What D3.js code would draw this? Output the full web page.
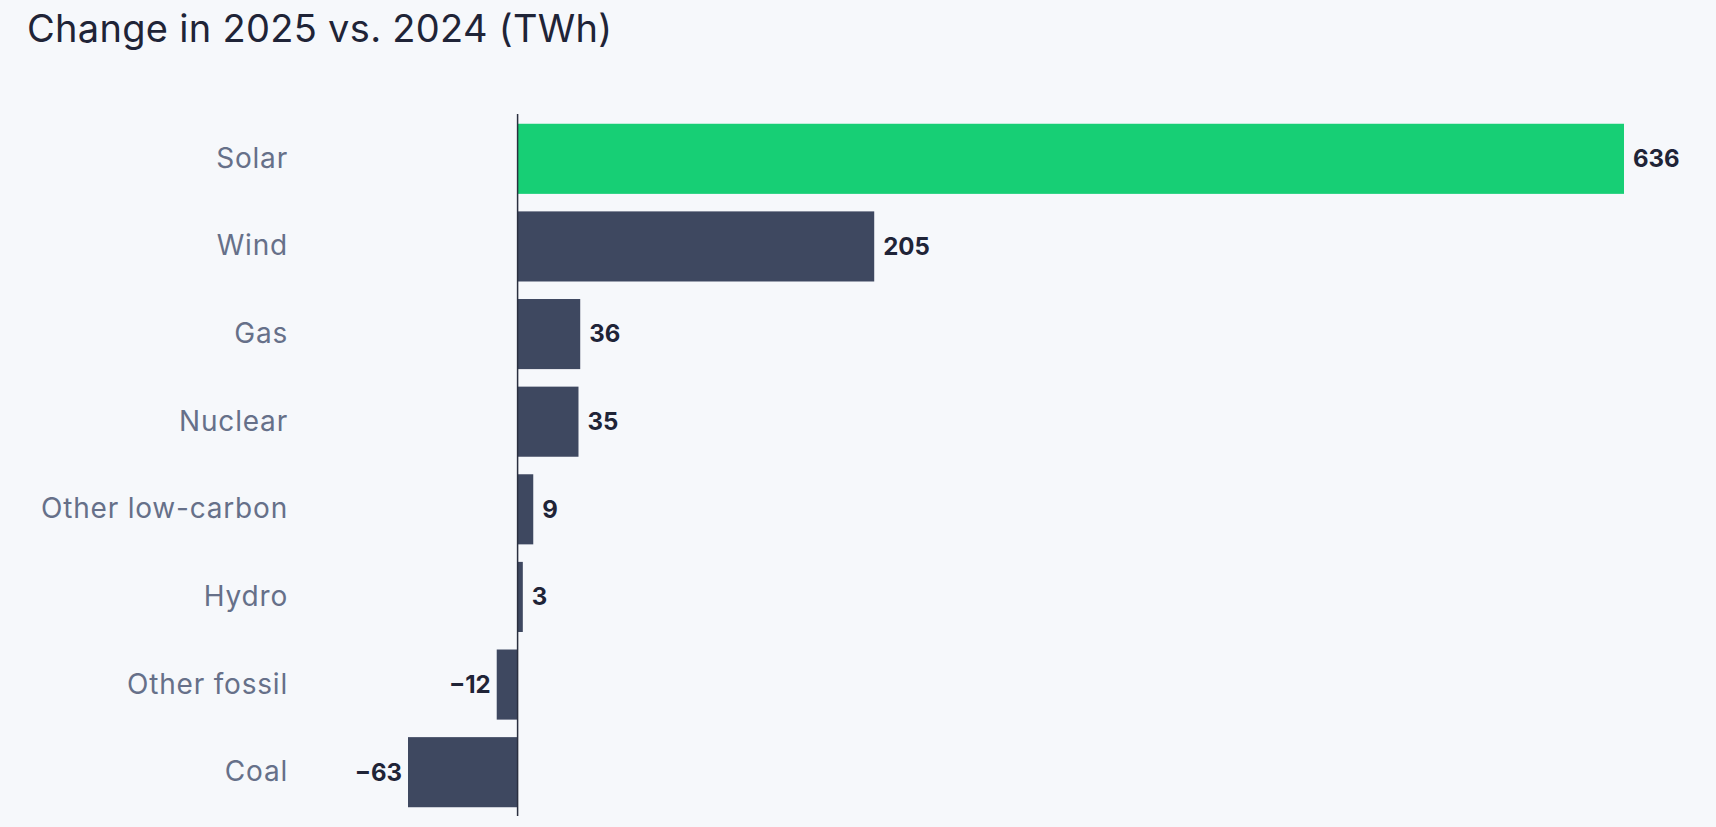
<!DOCTYPE html>
<html>
<head>
<meta charset="utf-8">
<script src="https://cdn.jsdelivr.net/npm/d3@7"></script>
<style>
  html, body { margin: 0; padding: 0; background: #f6f8fb; }
  svg { display: block; }
</style>
</head>
<body>
<svg id="chart" width="1716" height="827"></svg>
<script>
const categories = ["Solar", "Wind", "Gas", "Nuclear", "Other low-carbon", "Hydro", "Other fossil", "Coal"];
const values = [636, 205, 36, 35, 9, 3, -12, -63];
const highlight = ["Solar"];
const titleText = "Change in 2025 vs. 2024 (TWh)";

const svg = d3.select("#chart");
const W = 1716, H = 827;
svg.append("rect").attr("width", W).attr("height", H).attr("fill", "#f6f8fb");

const x = d3.scaleLinear().domain([-63, 636]).range([408, 1624]);
const y = d3.scaleBand().domain(categories).range([115, 816]).paddingInner(0.2).paddingOuter(0.1);

const data = categories.map((c, i) => ({ c, v: values[i] }));

svg.append("text")
  .attr("x", 27).attr("y", 42)
  .attr("font-family", "Inter, sans-serif")
  .attr("font-size", 38)
  .attr("letter-spacing", 0.3)
  .attr("fill", "#1f2437")
  .text(titleText);

svg.append("g").selectAll("rect").data(data).join("rect")
  .attr("x", d => x(Math.min(0, d.v)))
  .attr("y", d => y(d.c))
  .attr("width", d => Math.abs(x(d.v) - x(0)))
  .attr("height", y.bandwidth())
  .attr("fill", d => highlight.includes(d.c) ? "#17cf75" : "#3e4860");

// zero axis line
svg.append("line")
  .attr("x1", x(0)).attr("x2", x(0))
  .attr("y1", y.range()[0] - 1).attr("y2", y.range()[1])
  .attr("stroke", "#2a2f3f").attr("stroke-width", 1.5);

// category labels
const yAxis = d3.axisLeft(y).tickSize(0).tickPadding(0);
const gy = svg.append("g").attr("transform", "translate(288,0)").call(yAxis);
gy.select(".domain").remove();
gy.selectAll("text")
  .attr("font-family", "Inter, sans-serif")
  .attr("font-size", 28)
  .attr("letter-spacing", 0.8)
  .attr("fill", "#667089");

// value labels
svg.append("g").selectAll("text").data(data).join("text")
  .attr("x", d => d.v >= 0 ? x(d.v) + 9 : x(d.v) - 6)
  .attr("y", d => y(d.c) + y.bandwidth() / 2)
  .attr("dy", "0.35em")
  .attr("text-anchor", d => d.v >= 0 ? "start" : "end")
  .attr("font-family", "Inter, sans-serif")
  .attr("font-weight", 700)
  .attr("font-size", 24)
  .attr("fill", "#1f2437")
  .text(d => d.v < 0 ? "\u2212" + Math.abs(d.v) : d.v);
</script>
</body>
</html>
